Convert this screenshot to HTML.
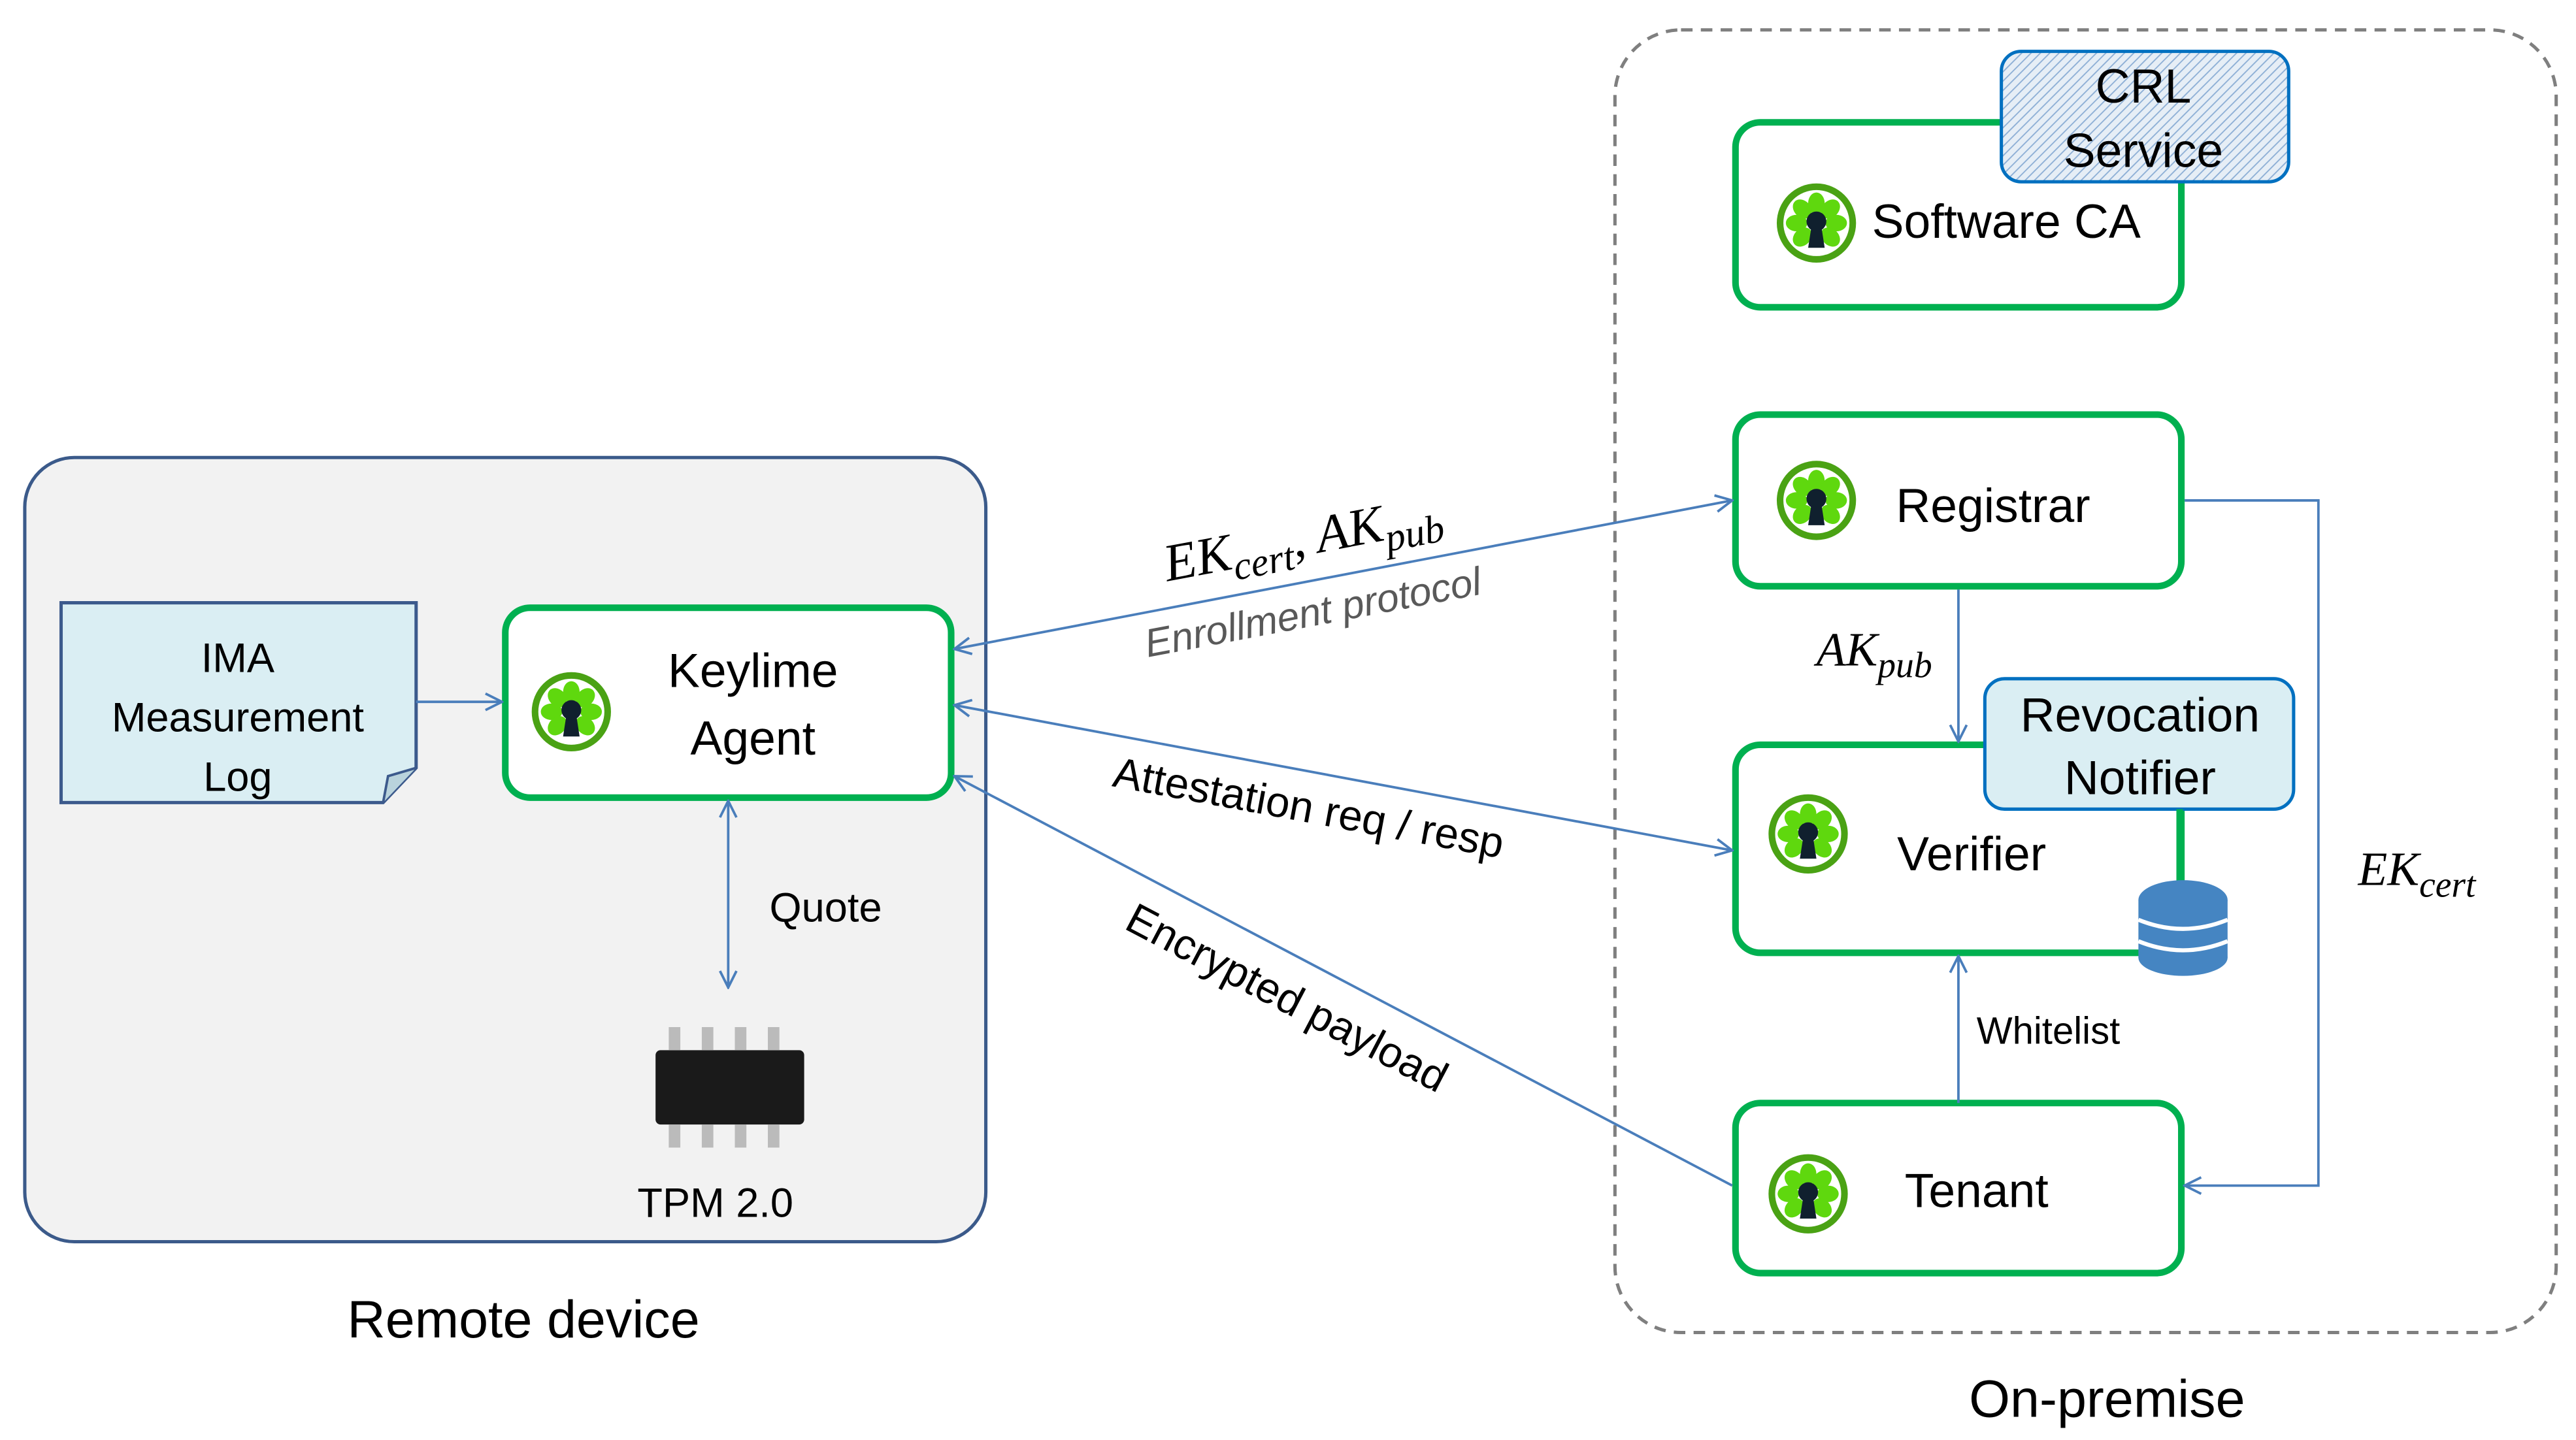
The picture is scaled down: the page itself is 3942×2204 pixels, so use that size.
<!DOCTYPE html>
<html><head><style>html,body{margin:0;padding:0;background:#fff}svg{display:block}</style></head><body>
<svg width="3942" height="2204" viewBox="0 0 1560 872" xmlns="http://www.w3.org/2000/svg" font-family="'Liberation Sans', sans-serif">
<defs>
<marker id="a" viewBox="0 0 12 12" refX="11" refY="6" markerWidth="12" markerHeight="12" markerUnits="userSpaceOnUse" orient="auto-start-reverse"><path d="M1,1 L11,6 L1,11" fill="none" stroke="#4a7ebb" stroke-width="1.5"/></marker>
<pattern id="h" width="4" height="4" patternUnits="userSpaceOnUse" patternTransform="rotate(45)"><rect width="4" height="4" fill="#e6eef6"/><line x1="0" y1="0" x2="0" y2="4" stroke="#8fb0d6" stroke-width="1.5"/></pattern>
<g id="lime"><circle r="24" fill="#4aa214"/><circle r="20" fill="#fff"/>
<g fill="#5fd80e"><ellipse cx="0" cy="-12" rx="5" ry="6.5"/><ellipse cx="0" cy="-12" rx="5" ry="6.5" transform="rotate(45)"/><ellipse cx="0" cy="-12" rx="5" ry="6.5" transform="rotate(90)"/><ellipse cx="0" cy="-12" rx="5" ry="6.5" transform="rotate(135)"/><ellipse cx="0" cy="-12" rx="5" ry="6.5" transform="rotate(-45)"/><ellipse cx="0" cy="-12" rx="5" ry="6.5" transform="rotate(-90)"/><ellipse cx="0" cy="-12" rx="5" ry="6.5" transform="rotate(-135)"/></g>
<circle cx="0" cy="-1" r="6" fill="#10202e"/><path d="M-3,2 L-5,15 L5,15 L3,2Z" fill="#10202e"/></g>
</defs>
<rect x="15" y="277" width="582" height="475" rx="30" fill="#f2f2f2" stroke="#3b5a8a" stroke-width="2"/>
<rect x="978" y="18" width="570" height="789" rx="40" fill="none" stroke="#7f7f7f" stroke-width="2" stroke-dasharray="7,5"/>
<path d="M37,365 H252 V465 L232,486 H37Z" fill="#daeef3" stroke="#3c5a8c" stroke-width="2"/>
<path d="M252,465 L235,470 L232,486" fill="#b9d3dc" stroke="#3c5a8c" stroke-width="1.5"/>
<g font-size="25" text-anchor="middle" fill="#000">
<text x="144" y="407">IMA</text><text x="144" y="443">Measurement</text><text x="144" y="479">Log</text></g>
<g fill="#fff" stroke="#00b050" stroke-width="4">
<rect x="306" y="368" width="270" height="115" rx="15"/>
<rect x="1051" y="74" width="270" height="112" rx="15"/>
<rect x="1051" y="251" width="270" height="104" rx="15"/>
<rect x="1051" y="451" width="270" height="126" rx="15"/>
<rect x="1051" y="668" width="270" height="103" rx="15"/>
</g>
<rect x="1212" y="31" width="174" height="79" rx="12" fill="url(#h)" stroke="#0070c0" stroke-width="2"/>
<rect x="1202" y="411" width="187" height="79" rx="12" fill="#daeef3" stroke="#0070c0" stroke-width="2"/>
<line x1="1320" y1="490" x2="1320" y2="570" stroke="#00b050" stroke-width="4"/>
<g fill="#4585c2"><ellipse cx="1322" cy="545" rx="27" ry="12"/><rect x="1295" y="545" width="54" height="35"/><ellipse cx="1322" cy="580" rx="27" ry="11"/></g>
<g stroke="#fff" stroke-width="2.5" fill="none"><path d="M1295,557 Q1322,568 1349,557"/><path d="M1295,570 Q1322,581 1349,570"/></g>
<use href="#lime" x="346" y="431"/><use href="#lime" x="1100" y="135"/><use href="#lime" x="1100" y="303"/><use href="#lime" x="1095" y="505"/><use href="#lime" x="1095" y="723"/>
<g font-size="29" fill="#000" text-anchor="middle">
<text x="456" y="416">Keylime</text><text x="456" y="457">Agent</text>
<text x="1215" y="144">Software CA</text>
<text x="1207" y="316">Registrar</text>
<text x="1194" y="527">Verifier</text>
<text x="1197" y="731">Tenant</text>
<text x="1298" y="62">CRL</text><text x="1298" y="101">Service</text>
<text x="1296" y="443">Revocation</text><text x="1296" y="481">Notifier</text>
<text x="317" y="810" font-size="32">Remote device</text>
<text x="1276" y="858" font-size="32">On-premise</text>
</g>
<g stroke="#4a7ebb" stroke-width="1.5" fill="none">
<line x1="578" y1="393" x2="1049" y2="303" marker-start="url(#a)" marker-end="url(#a)"/>
<line x1="578" y1="427" x2="1049" y2="515" marker-start="url(#a)" marker-end="url(#a)"/>
<line x1="578" y1="470" x2="1049" y2="718" marker-start="url(#a)"/>
<line x1="252" y1="425" x2="304" y2="425" marker-end="url(#a)"/>
<line x1="441" y1="485" x2="441" y2="598" marker-start="url(#a)" marker-end="url(#a)"/>
<line x1="1186" y1="357" x2="1186" y2="449" marker-end="url(#a)"/>
<line x1="1186" y1="668" x2="1186" y2="579" marker-end="url(#a)"/>
<polyline points="1323,303 1404,303 1404,718 1323,718" marker-end="url(#a)"/>
</g>
<rect x="397" y="636" width="90" height="45" rx="3" fill="#1a1a1a"/>
<g fill="#bbb"><rect x="405" y="622" width="7" height="14"/><rect x="425" y="622" width="7" height="14"/><rect x="445" y="622" width="7" height="14"/><rect x="465" y="622" width="7" height="14"/><rect x="405" y="681" width="7" height="14"/><rect x="425" y="681" width="7" height="14"/><rect x="445" y="681" width="7" height="14"/><rect x="465" y="681" width="7" height="14"/></g>
<g font-size="25" fill="#000">
<text x="466" y="558">Quote</text>
<text x="386" y="737">TPM 2.0</text>
<text x="1197" y="632" font-size="23">Whitelist</text>
</g>
<g font-family="'Liberation Serif', serif" font-style="italic" fill="#000">
<text x="1100" y="403" font-size="29">AK<tspan font-size="22" dy="7">pub</tspan></text>
<text x="1428" y="536" font-size="29">EK<tspan font-size="22" dy="7">cert</tspan></text>
<text transform="translate(707,352) rotate(-10.7)" font-size="32">EK<tspan font-size="24" dy="7">cert</tspan><tspan dy="-7">, AK</tspan><tspan font-size="24" dy="7">pub</tspan></text>
</g>
<g font-size="25" fill="#000">
<text transform="translate(695,398) rotate(-10.7)" fill="#595959" font-style="italic" font-size="24">Enrollment protocol</text>
<text transform="translate(673,476) rotate(10.5)" font-size="26">Attestation req / resp</text>
<text transform="translate(680,562) rotate(27.7)" font-size="26">Encrypted payload</text>
</g>
</svg>
</body></html>
